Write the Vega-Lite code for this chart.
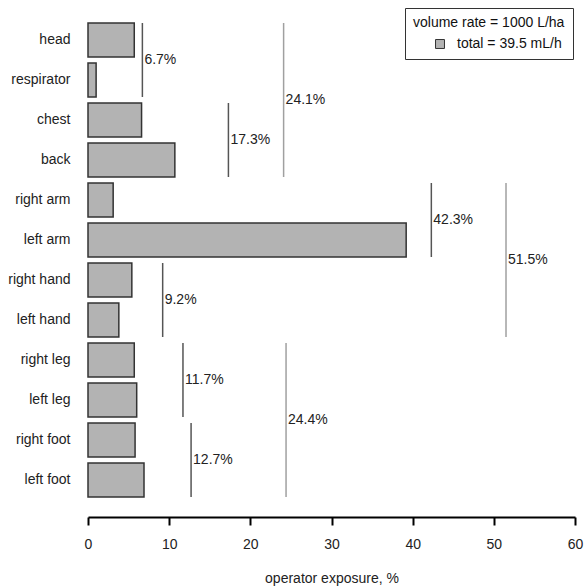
{
  "$schema": "https://vega.github.io/schema/vega-lite/v6.json",
  "width": 487,
  "height": 480,
  "autosize": {"type": "none"},
  "padding": {"left": 88, "top": 20, "right": 9, "bottom": 86},
  "config": {
    "font": "Liberation Sans",
    "view": {"stroke": null},
    "axisY": {"domain": false, "ticks": false, "labelPadding": 18, "labelFontSize": 14, "labelColor": "#222", "title": null},
    "legend": {"strokeColor": "#333", "fillColor": "white", "padding": 8}
  },
  "datasets": {
    "bars": [
      {"part": "head", "value": 5.7, "series": "total = 39.5 mL/h"},
      {"part": "respirator", "value": 1.0, "series": "total = 39.5 mL/h"},
      {"part": "chest", "value": 6.6, "series": "total = 39.5 mL/h"},
      {"part": "back", "value": 10.7, "series": "total = 39.5 mL/h"},
      {"part": "right arm", "value": 3.1, "series": "total = 39.5 mL/h"},
      {"part": "left arm", "value": 39.2, "series": "total = 39.5 mL/h"},
      {"part": "right hand", "value": 5.4, "series": "total = 39.5 mL/h"},
      {"part": "left hand", "value": 3.8, "series": "total = 39.5 mL/h"},
      {"part": "right leg", "value": 5.7, "series": "total = 39.5 mL/h"},
      {"part": "left leg", "value": 6.0, "series": "total = 39.5 mL/h"},
      {"part": "right foot", "value": 5.8, "series": "total = 39.5 mL/h"},
      {"part": "left foot", "value": 6.9, "series": "total = 39.5 mL/h"}
    ],
    "groups": [
      {"from": "head", "to": "respirator", "labelAt": "head", "sum": 6.7, "label": "6.7%", "level": "pair"},
      {"from": "chest", "to": "back", "labelAt": "chest", "sum": 17.3, "label": "17.3%", "level": "pair"},
      {"from": "head", "to": "back", "labelAt": "respirator", "sum": 24.1, "label": "24.1%", "level": "group"},
      {"from": "right arm", "to": "left arm", "labelAt": "right arm", "sum": 42.3, "label": "42.3%", "level": "pair"},
      {"from": "right hand", "to": "left hand", "labelAt": "right hand", "sum": 9.2, "label": "9.2%", "level": "pair"},
      {"from": "right arm", "to": "left hand", "labelAt": "left arm", "sum": 51.5, "label": "51.5%", "level": "group"},
      {"from": "right leg", "to": "left leg", "labelAt": "right leg", "sum": 11.7, "label": "11.7%", "level": "pair"},
      {"from": "right foot", "to": "left foot", "labelAt": "right foot", "sum": 12.7, "label": "12.7%", "level": "pair"},
      {"from": "right leg", "to": "left foot", "labelAt": "left leg", "sum": 24.4, "label": "24.4%", "level": "group"}
    ]
  },
  "layer": [
    {
      "data": {"name": "bars"},
      "mark": {"type": "bar", "stroke": "#333", "strokeWidth": 1.5},
      "encoding": {
        "y": {"field": "part", "type": "nominal", "title": null,
          "scale": {"domain": ["head", "respirator", "chest", "back", "right arm", "left arm", "right hand", "left hand", "right leg", "left leg", "right foot", "left foot"], "paddingInner": 0.15, "paddingOuter": 0.075}},
        "x": {"field": "value", "type": "quantitative", "title": "operator exposure, %",
          "scale": {"domain": [0, 60], "nice": false},
          "axis": {"values": [0, 10, 20, 30, 40, 50, 60], "grid": false, "offset": 17, "domainWidth": 2, "domainColor": "black", "tickWidth": 2, "tickColor": "black", "tickSize": 8, "labelFlush": false, "labelFontSize": 14, "labelColor": "#222", "labelPadding": 12, "titleFontSize": 14, "titleFontWeight": "normal", "titleColor": "#222", "titlePadding": 20}},
        "fill": {"field": "series", "type": "nominal",
          "scale": {"domain": ["total = 39.5 mL/h"], "range": ["#b3b3b3"]},
          "legend": {"title": "volume rate = 1000 L/ha", "orient": "none", "legendX": 317, "legendY": -12, "titleFontSize": 14, "titleFontWeight": "normal", "titleColor": "#111", "titlePadding": 7, "labelFontSize": 14, "labelColor": "#111", "symbolType": "square", "symbolSize": 80, "symbolStrokeColor": "#333", "symbolStrokeWidth": 1, "symbolOffset": 20, "labelOffset": 10}}
      }
    },
    {
      "data": {"name": "groups"},
      "mark": {"type": "rule", "strokeWidth": 1.5},
      "encoding": {
        "y": {"field": "from", "type": "nominal", "bandPosition": 0},
        "y2": {"field": "to", "bandPosition": 1},
        "x": {"field": "sum", "type": "quantitative"},
        "color": {"field": "level", "type": "nominal", "scale": {"domain": ["pair", "group"], "range": ["#555555", "#a0a0a0"]}, "legend": null}
      }
    },
    {
      "data": {"name": "groups"},
      "mark": {"type": "text", "align": "left", "baseline": "middle", "dx": 2, "fontSize": 14, "color": "#222"},
      "encoding": {
        "y": {"field": "labelAt", "type": "nominal", "bandPosition": 1.09},
        "x": {"field": "sum", "type": "quantitative"},
        "text": {"field": "label"}
      }
    }
  ]
}
